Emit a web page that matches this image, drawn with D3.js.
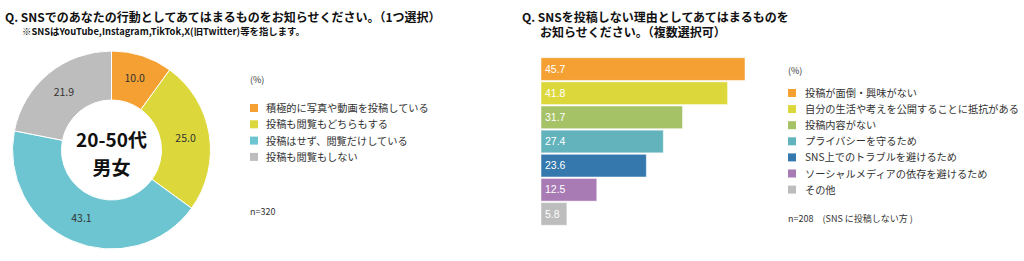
<!DOCTYPE html>
<html>
<head>
<meta charset="utf-8">
<script src="https://cdn.jsdelivr.net/npm/d3@7"></script>
<style>
  body { margin: 0; background: #fff; }
  text { font-family: "Noto Sans CJK JP", "Noto Sans", sans-serif; }
</style>
</head>
<body>
<script>
// left chart data (donut)
var actionLabels = ["積極的に写真や動画を投稿している", "投稿も閲覧もどちらもする", "投稿はせず、閲覧だけしている", "投稿も閲覧もしない"];
var actionValues = [10.0, 25.0, 43.1, 21.9];
var actionColors = ["#f4a033", "#dcd83c", "#6cc5d0", "#bdbdbd"];

// right chart data (bars)
var reasonLabels = ["投稿が面倒・興味がない", "自分の生活や考えを公開することに抵抗がある", "投稿内容がない", "プライバシーを守るため", "SNS上でのトラブルを避けるため", "ソーシャルメディアの依存を避けるため", "その他"];
var reasonValues = [45.7, 41.8, 31.7, 27.4, 23.6, 12.5, 5.8];
var reasonColors = ["#f4a033", "#dcd83c", "#a5c266", "#62b3bc", "#3478ad", "#a87bb5", "#bdbdbd"];

var svg = d3.select("body").append("svg")
    .attr("width", 1024)
    .attr("height", 261);

// titles
svg.append("text").attr("x", 5).attr("y", 22)
    .attr("font-size", 12).attr("font-weight", "bold").attr("fill", "#111")
    .text("Q. SNSでのあなたの行動としてあてはまるものをお知らせください。（1つ選択）");
svg.append("text").attr("x", 22).attr("y", 35)
    .attr("font-size", 9.4).attr("font-weight", "bold").attr("fill", "#111")
    .text("※SNSはYouTube,Instagram,TikTok,X(旧Twitter)等を指します。");

svg.append("text").attr("x", 522).attr("y", 22)
    .attr("font-size", 12).attr("font-weight", "bold").attr("fill", "#111")
    .text("Q. SNSを投稿しない理由としてあてはまるものを");
svg.append("text").attr("x", 540).attr("y", 37)
    .attr("font-size", 12).attr("font-weight", "bold").attr("fill", "#111")
    .text("お知らせください。（複数選択可）");

// donut
var pie = d3.pie().sort(null).value(function(d) { return d; });
var arc = d3.arc().innerRadius(50).outerRadius(99);
var labelArc = d3.arc().innerRadius(75).outerRadius(75);

var donut = svg.append("g").attr("transform", "translate(111.5,150)");
var slices = pie(actionValues);

donut.selectAll("path")
    .data(slices)
    .enter().append("path")
    .attr("d", arc)
    .attr("fill", function(d, i) { return actionColors[i]; })
    .attr("stroke", "#fff")
    .attr("stroke-width", 1);

donut.selectAll(".lbl")
    .data(slices)
    .enter().append("text")
    .attr("class", "lbl")
    .attr("transform", function(d) { return "translate(" + labelArc.centroid(d) + ")"; })
    .attr("text-anchor", "middle")
    .attr("dy", "0.35em")
    .attr("font-size", 10.5)
    .attr("fill", "#333")
    .text(function(d) { return d3.format(".1f")(d.data); });

donut.append("text").attr("text-anchor", "middle").attr("y", -3)
    .attr("font-size", 19).attr("font-weight", "bold").attr("fill", "#111")
    .text("20-50代");
donut.append("text").attr("text-anchor", "middle").attr("y", 25)
    .attr("font-size", 19).attr("font-weight", "bold").attr("fill", "#111")
    .text("男女");

// left legend
svg.append("text").attr("x", 250).attr("y", 83)
    .attr("font-size", 9).attr("fill", "#333").text("(%)");
var legL = svg.append("g");
legL.selectAll("rect")
    .data(actionLabels)
    .enter().append("rect")
    .attr("x", 250)
    .attr("y", function(d, i) { return 104 + i * 16.3; })
    .attr("width", 8).attr("height", 8)
    .attr("fill", function(d, i) { return actionColors[i]; });
legL.selectAll("text")
    .data(actionLabels)
    .enter().append("text")
    .attr("x", 266)
    .attr("y", function(d, i) { return 112 + i * 16.3; })
    .attr("font-size", 10.2).attr("fill", "#333")
    .text(function(d) { return d; });
svg.append("text").attr("x", 250).attr("y", 215)
    .attr("font-size", 9).attr("fill", "#333").text("n=320");

// bars
var x = d3.scaleLinear().domain([0, 45.7]).range([0, 204]);
var y = d3.scaleBand().domain(reasonLabels).range([57, 226]).paddingInner(0.06).paddingOuter(0.03);

var bars = svg.append("g").attr("transform", "translate(541,0)");
bars.selectAll("rect")
    .data(reasonValues)
    .enter().append("rect")
    .attr("x", 0)
    .attr("y", function(d, i) { return y(reasonLabels[i]); })
    .attr("width", function(d) { return x(d); })
    .attr("height", y.bandwidth())
    .attr("fill", function(d, i) { return reasonColors[i]; })
    .attr("stroke", "#fff")
    .attr("stroke-opacity", 0.5)
    .attr("stroke-width", 1);
bars.selectAll("text")
    .data(reasonValues)
    .enter().append("text")
    .attr("x", 4)
    .attr("y", function(d, i) { return y(reasonLabels[i]) + y.bandwidth() / 2; })
    .attr("dy", "0.35em")
    .attr("font-size", 10.5)
    .attr("fill", "#fff")
    .style("font-family", "'Liberation Sans', Arial, sans-serif")
    .text(function(d) { return d3.format(".1f")(d); });

// right legend
svg.append("text").attr("x", 788).attr("y", 74)
    .attr("font-size", 9).attr("fill", "#333").text("(%)");
var legR = svg.append("g");
legR.selectAll("rect")
    .data(reasonLabels)
    .enter().append("rect")
    .attr("x", 788)
    .attr("y", function(d, i) { return 89 + i * 16.1; })
    .attr("width", 8).attr("height", 8)
    .attr("fill", function(d, i) { return reasonColors[i]; });
legR.selectAll("text")
    .data(reasonLabels)
    .enter().append("text")
    .attr("x", 805)
    .attr("y", function(d, i) { return 97 + i * 16.1; })
    .attr("font-size", 10.2).attr("fill", "#333")
    .text(function(d) { return d; });
svg.append("text").attr("x", 788).attr("y", 222)
    .attr("font-size", 9).attr("fill", "#333").text("n=208　(SNS に投稿しない方 )");
</script>
</body>
</html>
